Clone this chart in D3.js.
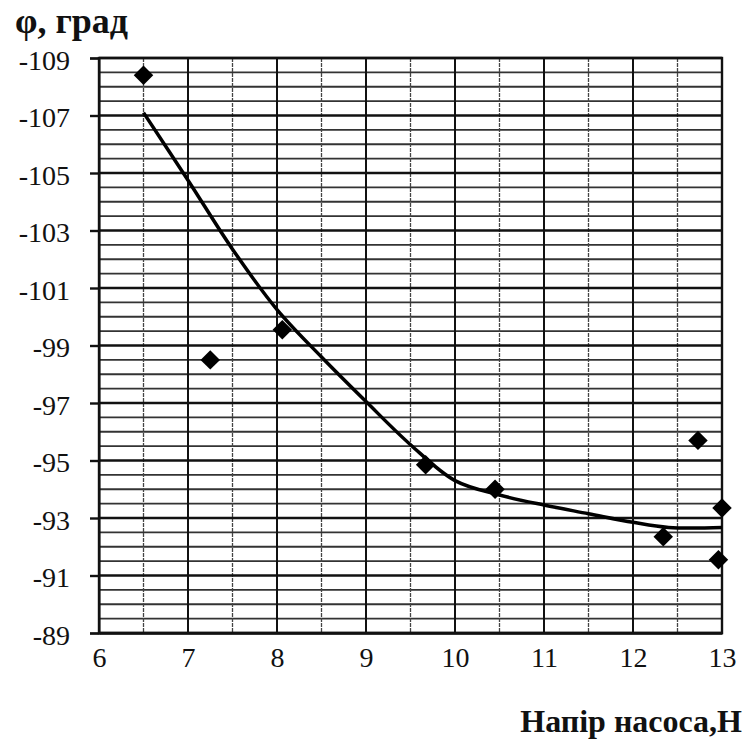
<!DOCTYPE html>
<html>
<head>
<meta charset="utf-8">
<script src="https://cdn.jsdelivr.net/npm/d3@7"></script>
<style>
  body { margin: 0; background: #fff; }
  svg { display: block; }
</style>
</head>
<body>
<script>
// measured points (напір, phi)
const pointX = [6.5, 7.25, 8.06, 9.67, 10.45, 12.34, 12.73, 13.0, 12.96];
const pointY = [-108.4, -98.5, -99.55, -94.85, -94.0, -92.35, -95.7, -93.35, -91.55];

// trend line
const trendX = [6.5, 7, 7.5, 8, 8.5, 9, 9.5, 10, 10.5, 11, 11.5, 12, 12.4, 13];
const trendY = [-107.1, -104.75, -102.35, -100.25, -98.6, -97.05, -95.55, -94.3, -93.8, -93.45, -93.15, -92.85, -92.67, -92.67];

const xTicks = [6, 7, 8, 9, 10, 11, 12, 13];
const yTicks = [-109, -107, -105, -103, -101, -99, -97, -95, -93, -91, -89];

var W = 752, H = 742;
var margin = { top: 58, right: 30, bottom: 109, left: 99 },
    width = W - margin.left - margin.right,
    height = H - margin.top - margin.bottom;

var x = d3.scaleLinear().domain([6, 13]).range([0, width]);
var y = d3.scaleLinear().domain([-109, -89]).range([0, height]);

var svg = d3.select("body").append("svg")
    .attr("width", W)
    .attr("height", H);
svg.append("rect").attr("width", W).attr("height", H).attr("fill", "#fff");

var g = svg.append("g")
    .attr("transform", "translate(" + margin.left + "," + margin.top + ")");

// minor grid every 0.5
var minorX = d3.range(6.5, 13, 1);
var minorY = d3.range(-109, -88.9, 0.5).filter(function (d) { return (d + 109) % 2 !== 0; });

g.selectAll(".hminor").data(minorY).enter().append("line")
    .attr("x1", 0).attr("x2", width)
    .attr("y1", function (d) { return y(d); }).attr("y2", function (d) { return y(d); })
    .attr("stroke", "#333").attr("stroke-width", 1.8);

g.selectAll(".vminor").data(minorX).enter().append("line")
    .attr("y1", 0).attr("y2", height)
    .attr("x1", function (d) { return x(d); }).attr("x2", function (d) { return x(d); })
    .attr("stroke", "#444").attr("stroke-width", 1.3)
    .attr("stroke-dasharray", "4,1");

g.selectAll(".vmajor").data(xTicks).enter().append("line")
    .attr("y1", 0).attr("y2", height)
    .attr("x1", function (d) { return x(d); }).attr("x2", function (d) { return x(d); })
    .attr("stroke", "#111").attr("stroke-width", 2);

var serif = "'Liberation Serif', 'Times New Roman', serif";

// y axis (major lines + ticks)
var yAxis = g.append("g")
    .call(d3.axisLeft(y).tickValues(yTicks).tickSize(9).tickPadding(20)
        .tickFormat(function (d) { return String(d); }));
yAxis.attr("font-family", null);
yAxis.select(".domain").attr("stroke", "#111").attr("stroke-width", 2);
yAxis.selectAll(".tick line").attr("stroke", "#111").attr("stroke-width", 2.4);
yAxis.selectAll(".tick text")
    .style("font-family", serif)
    .style("font-size", "28px").attr("fill", "#111").attr("dy", "0.4em");

g.selectAll(".hmajor").data(yTicks).enter().append("line")
    .attr("x1", 0).attr("x2", width)
    .attr("y1", function (d) { return y(d); }).attr("y2", function (d) { return y(d); })
    .attr("stroke", "#111").attr("stroke-width", 2.6);

// x axis labels
var xAxis = g.append("g")
    .attr("transform", "translate(0," + height + ")")
    .call(d3.axisBottom(x).tickValues(xTicks).tickSize(0).tickPadding(14)
        .tickFormat(function (d) { return String(d); }));
xAxis.attr("font-family", null);
xAxis.select(".domain").attr("stroke", "#111").attr("stroke-width", 2.4);
xAxis.selectAll(".tick text")
    .style("font-family", serif)
    .style("font-size", "28px").attr("fill", "#111");

// frame
g.append("rect").attr("width", width).attr("height", height)
    .attr("fill", "none").attr("stroke", "#111").attr("stroke-width", 2.4);

// trend line
var trend = trendX.map(function (d, i) { return [d, trendY[i]]; });
var valueline = d3.line()
    .x(function (d) { return x(d[0]); })
    .y(function (d) { return y(d[1]); })
    .curve(d3.curveCatmullRom.alpha(0.5));
g.append("path")
    .datum(trend)
    .attr("d", valueline)
    .attr("fill", "none").attr("stroke", "#000").attr("stroke-width", 3.5);

// points
var pts = pointX.map(function (d, i) { return [d, pointY[i]]; });
g.selectAll(".dot").data(pts).enter().append("path")
    .attr("d", d3.symbol().type(d3.symbolSquare).size(190))
    .attr("transform", function (d) { return "translate(" + x(d[0]) + "," + y(d[1]) + ") rotate(45)"; })
    .attr("fill", "#000");

// titles
svg.append("text")
    .attr("x", 15).attr("y", 33)
    .style("font-family", serif)
    .attr("font-weight", "bold").style("font-size", "36px").attr("fill", "#111")
    .text("φ, град");

svg.append("text")
    .attr("x", 742).attr("y", 732).attr("text-anchor", "end")
    .style("font-family", serif)
    .attr("font-weight", "bold").style("font-size", "32px").attr("fill", "#111")
    .text("Напір насоса,Н");
</script>
</body>
</html>
